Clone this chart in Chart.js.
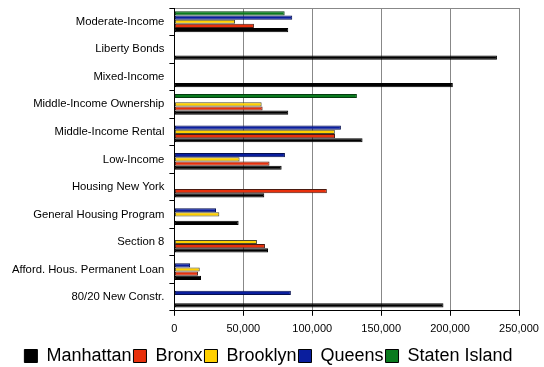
<!DOCTYPE html>
<html>
<head>
<meta charset="utf-8">
<script src="https://cdn.jsdelivr.net/npm/chart.js@4/dist/chart.umd.min.js"></script>
<style>
  html, body { margin: 0; padding: 0; background: #fff; }
  #wrap { width: 544px; height: 367px; position: relative; }
</style>
</head>
<body>
<div id="wrap"><canvas id="c"></canvas></div>
<script>
// Housing program categories, listed top to bottom
const categories = [
  'Moderate-Income',
  'Liberty Bonds',
  'Mixed-Income',
  'Middle-Income Ownership',
  'Middle-Income Rental',
  'Low-Income',
  'Housing New York',
  'General Housing Program',
  'Section 8',
  'Afford. Hous. Permanent Loan',
  '80/20 New Constr.'
];

// Values per borough (null = no program in that borough)
const manhattan    = [82600, 234000, 202000, 82600, 136500, 77800, 65200, 46600, 67900, 19300, 195200];
const bronx        = [57700, null, null, 64000, 116500, 69000, 110600, null, 65700, 17100, null];
const brooklyn     = [44000, null, null, 63300, 116400, 47300, null, 32600, 59900, 18400, null];
const queens       = [85500, null, null, null, 120800, 80200, null, 30200, null, 11400, 84500];
const statenIsland = [80000, null, null, 132400, null, null, null, null, null, null, null];

const xTicks = [0, 50000, 100000, 150000, 200000, 250000];

const FONT = "'Liberation Sans', Arial, sans-serif";

function ds(label, data, color, edge) {
  return {
    label, data,
    backgroundColor: color,
    borderColor: edge,
    borderWidth: 1,
    borderSkipped: false,
    inflateAmount: 0
  };
}

// Nudge the legend row a little to the left of the canvas centre
const legendShift = {
  id: 'legendShift',
  afterLayout(chart) {
    if (chart.legend) { chart.legend.left -= 7; chart.legend.right -= 7; }
  }
};

new Chart(document.getElementById('c'), {
  type: 'bar',
  plugins: [legendShift],
  data: {
    labels: categories,
    // Drawn top to bottom within each group; legend is reversed
    datasets: [
      ds('Staten Island', statenIsland, '#0A7A1E', '#053d10'),
      ds('Queens', queens, '#0A1E9E', '#050f4f'),
      ds('Brooklyn', brooklyn, '#FFD000', '#4a4a30'),
      ds('Bronx', bronx, '#E8300C', '#4a1a10'),
      ds('Manhattan', manhattan, '#000000', '#000000')
    ]
  },
  options: {
    indexAxis: 'y',
    responsive: true,
    maintainAspectRatio: false,
    animation: false,
    layout: { padding: { top: 0, right: 0, left: 7, bottom: -8 } },
    datasets: { bar: { categoryPercentage: 0.76, barPercentage: 1.0 } },
    scales: {
      x: {
        min: 0, max: 250000,
        afterBuildTicks: (axis) => { axis.ticks = xTicks.map(v => ({ value: v })); },
        afterFit: (axis) => { axis.height += 2; axis.paddingRight = 25; },
        border: { color: '#000', width: 1 },
        grid: { color: '#888', lineWidth: 1, tickColor: '#000', tickLength: 5 },
        ticks: {
          color: '#000',
          font: { family: FONT, size: 11 },
          padding: 7,
          callback: (v) => v.toLocaleString('en-US')
        }
      },
      y: {
        afterFit: (axis) => { axis.paddingTop = 8; },
        border: { color: '#000', width: 1 },
        grid: {
          offset: true,
          color: (ctx) => ctx.index === 0 ? '#888' : 'rgba(0,0,0,0)',
          tickColor: '#000',
          tickLength: 5
        },
        ticks: {
          color: '#000',
          font: { family: FONT, size: 11.3 },
          padding: 5
        }
      }
    },
    plugins: {
      tooltip: { enabled: false },
      legend: {
        position: 'bottom',
        reverse: true,
        labels: {
          color: '#000',
          font: { family: FONT, size: 18 },
          boxWidth: 13,
          boxHeight: 13,
          padding: 2,
          generateLabels: (chart) => chart.data.datasets.map((d, i) => ({
            text: d.label,
            fillStyle: d.backgroundColor,
            strokeStyle: '#000',
            lineWidth: 1,
            datasetIndex: i,
            hidden: false
          }))
        }
      }
    }
  }
});
</script>
</body>
</html>
